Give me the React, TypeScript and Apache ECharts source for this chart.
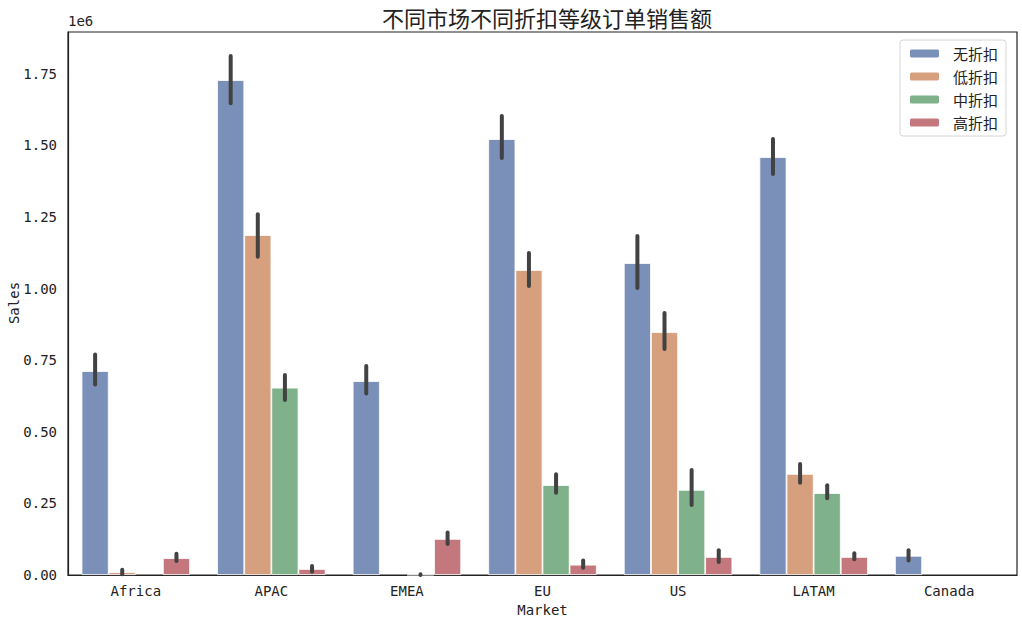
import React, { useEffect, useRef } from "react";
import * as echarts from "echarts";

const markets = ["Africa", "APAC", "EMEA", "EU", "US", "LATAM", "Canada"];
const seriesNames = ["无折扣", "低折扣", "中折扣", "高折扣"];
const colors = ["#7b90b8", "#d6a07f", "#7fb18a", "#c4777c"];

// mean sales per market per discount level (null = no bar)
const noDiscount = [712000, 1728000, 677000, 1522000, 1089000, 1459000, 67000];
const lowDiscount = [10000, 1187000, null, 1065000, 848000, 353000, null];
const midDiscount = [null, 654000, 1000, 314000, 297000, 286000, null];
const highDiscount = [59000, 21000, 126000, 36000, 63000, 63000, null];

// confidence interval lows / highs
const noDiscountLow = [665000, 1647000, 634000, 1456000, 1002000, 1400000, 51000];
const noDiscountHigh = [770000, 1812000, 730000, 1603000, 1184000, 1522000, 86000];
const lowDiscountLow = [3000, 1111000, null, 1009000, 789000, 322000, null];
const lowDiscountHigh = [18000, 1260000, null, 1124000, 915000, 388000, null];
const midDiscountLow = [null, 611000, 0, 287000, 244000, 268000, null];
const midDiscountHigh = [null, 698000, 3000, 352000, 367000, 313000, null];
const highDiscountLow = [49000, 11500, 108000, 25000, 45000, 55000, null];
const highDiscountHigh = [74000, 31000, 148000, 51000, 86000, 76000, null];

const yTickInterval = 250000;
const yMax = 1896000;

export default function App() {
  const ref = useRef<HTMLDivElement>(null);
  useEffect(() => {
    if (!ref.current) return;
    const chart = echarts.init(ref.current, undefined, { renderer: "svg" });
    const values = [noDiscount, lowDiscount, midDiscount, highDiscount];
    const lows = [noDiscountLow, lowDiscountLow, midDiscountLow, highDiscountLow];
    const highs = [noDiscountHigh, lowDiscountHigh, midDiscountHigh, highDiscountHigh];
    const monoFont = "DejaVu Sans Mono";
    const cjkFont = "Noto Sans CJK SC";

    const barSeries = seriesNames.map((name, k) => ({
      type: "bar",
      name,
      data: values[k].map((v) => (v === null ? "-" : v)),
      barGap: "0%",
      barCategoryGap: "20%",
      itemStyle: { color: colors[k], borderColor: "#ffffff", borderWidth: 0.8 },
      z: 2,
    }));

    const errSeries = seriesNames.map((name, k) => ({
      type: "custom",
      name: name + "_err",
      z: 5,
      data: markets
        .map((_, i) => [i, lows[k][i], highs[k][i]])
        .filter((d) => d[1] !== null && d[2] !== null),
      encode: { x: 0, y: [1, 2] },
      renderItem: (params: any, api: any) => {
        const ci = api.value(0);
        const lo = api.value(1);
        const hi = api.value(2);
        const band = api.size([1, 0])[0];
        const bw = (band * 0.8) / 4;
        const c = api.coord([ci, 0]);
        const x = c[0] + (k - 1.5) * bw;
        const p1 = api.coord([ci, lo]);
        const p2 = api.coord([ci, hi]);
        return {
          type: "line",
          shape: { x1: x, y1: p1[1], x2: x, y2: p2[1] },
          style: { stroke: "#424242", lineWidth: 4, lineCap: "round" },
        };
      },
    }));

    chart.setOption({
      animation: false,
      backgroundColor: "#ffffff",
      title: {
        text: "不同市场不同折扣等级订单销售额",
        left: 542,
        textAlign: "center",
        top: 1,
        textStyle: { fontFamily: cjkFont, fontSize: 22, fontWeight: "normal", color: "#222" },
      },
      legend: {
        data: seriesNames,
        orient: "vertical",
        right: 16,
        top: 40,
        itemWidth: 31,
        itemHeight: 10,
        itemGap: 8,
        padding: [6, 8, 6, 8],
        borderColor: "#d6d6d6",
        borderWidth: 1,
        borderRadius: 3,
        backgroundColor: "#ffffff",
        textStyle: { fontFamily: cjkFont, fontSize: 15, color: "#222", padding: [0, 0, 0, 8] },
      },
      grid: {
        left: 68,
        right: 5,
        top: 32,
        bottom: 48,
        show: true,
        borderColor: "#222",
        borderWidth: 1.2,
        backgroundColor: "transparent",
        containLabel: false,
        outerBoundsMode: "none",
      },
      xAxis: {
        type: "category",
        data: markets,
        name: "Market",
        nameLocation: "middle",
        nameGap: 26,
        nameTextStyle: { fontFamily: monoFont, fontSize: 14, color: "#222" },
        axisLine: { show: true, lineStyle: { color: "#222", width: 1.2 } },
        axisTick: { show: false },
        axisLabel: { fontFamily: monoFont, fontSize: 14, color: "#222", margin: 9 },
      },
      yAxis: {
        type: "value",
        min: 0,
        max: yMax,
        interval: yTickInterval,
        axisLine: { show: true, lineStyle: { color: "#222", width: 1.2 } },
        axisTick: { show: false },
        splitLine: { show: false },
        axisLabel: {
          fontFamily: monoFont,
          fontSize: 14,
          color: "#222",
          margin: 11,
          showMaxLabel: false,
          formatter: (v: number) => (v / 1e6).toFixed(2),
        },
      },
      graphic: [
        {
          type: "text",
          left: 68,
          top: 14,
          style: { text: "1e6", fontFamily: monoFont, fontSize: 14, fill: "#222" },
        },
        {
          type: "text",
          x: 14,
          y: 303,
          rotation: Math.PI / 2,
          style: {
            text: "Sales",
            fontFamily: monoFont,
            fontSize: 14,
            fill: "#222",
            align: "center",
            verticalAlign: "middle",
          },
        },
      ],
      series: [...barSeries, ...errSeries],
    });
    return () => chart.dispose();
  }, []);
  return (
    <div
      ref={ref}
      style={{ position: "absolute", left: 0, top: 0, width: 1022, height: 623 }}
    />
  );
}
